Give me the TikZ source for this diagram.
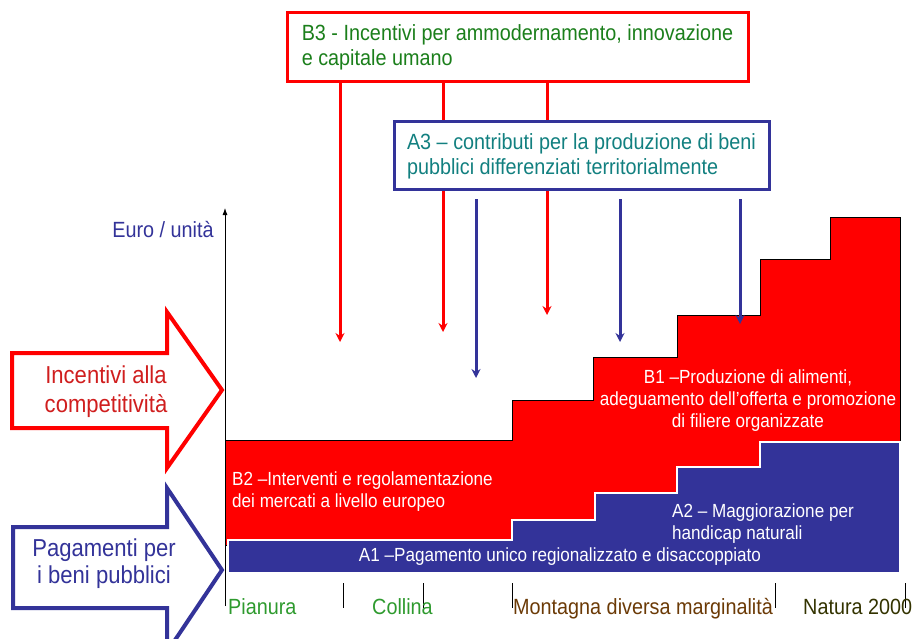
\documentclass[tikz,border=0pt]{standalone}
\usepackage{fontspec}
\setmainfont{Liberation Sans}[FakeStretch=0.9]
\usetikzlibrary{arrows.meta}

\definecolor{pacred}{HTML}{FF0000}
\definecolor{pacblue}{HTML}{333399}
\definecolor{boxgreen}{HTML}{1B7F1B}
\definecolor{boxteal}{HTML}{128080}
\definecolor{zonegreen}{HTML}{2E9A2E}
\definecolor{zonebrown}{HTML}{6B3A06}
\definecolor{zoneolive}{HTML}{333300}
\definecolor{arrowred}{HTML}{D01E1E}

\tikzset{
  measure/.style={draw=#1,line width=3pt,fill=white,inner sep=0pt,align=left,
    font=\fontsize{22}{25}\selectfont},
  downarrow/.style={draw=#1,line width=3pt,-{Stealth[length=9pt,width=9pt]}},
  inlabel/.style={text=white,inner sep=0pt,font=\fontsize{19}{22}\selectfont},
  zone/.style={inner sep=0pt,anchor=base west,font=\fontsize{22}{25}\selectfont}
}

\begin{document}
\begin{tikzpicture}[x=1pt,y=-1pt]
\useasboundingbox (0,0) rectangle (915,639);

% stairs
\draw[fill=pacred,draw=black,line width=0.7pt]
  (225,545) -- (225,440) -- (512,440) -- (512,400) -- (593,400) -- (593,357) -- (677,357)
  -- (677,315) -- (760,315) -- (760,259) -- (830,259) -- (830,217) -- (900,217)
  -- (900,545) -- cycle;
\draw[fill=pacblue,draw=white,line width=1.2pt]
  (228,540) -- (512,540) -- (512,520) -- (595,520) -- (595,493) -- (677,493)
  -- (677,467) -- (760,467) -- (760,442) -- (900,442) -- (900,573) -- (228,573) -- cycle;

% axis and ticks
\draw[line width=0.8pt,-{Latex[length=7pt,width=5pt]}] (225,606) -- (225,208);
\foreach \x in {343,423,512,775,905}
  \draw[line width=0.8pt] (\x,583) -- (\x,608);

\node[text=pacblue,inner sep=0pt,font=\fontsize{22}{25}\selectfont] (euro) at (163,230) {Euro / unità};

% zones
\node[zone,text=zonegreen] (pianura) at (228,614) {Pianura};
\node[zone,text=zonegreen] (collina) at (372,614) {Collina};
\node[zone,text=zonebrown] (montagna) at (513,614) {Montagna diversa marginalità};
\node[zone,text=zoneolive] (natura) at (803,614) {Natura 2000};

% measures
\node[measure=pacred,text=boxgreen,minimum width=461pt,minimum height=69pt] (b3) at (517.5,47.5)
  {B3 - Incentivi per ammodernamento, innovazione\\e capitale umano};

\coordinate (r1) at (340,342);
\coordinate (r2) at (443,332);
\coordinate (r3) at (547,315);
\foreach \t in {r1,r2,r3}
  \draw[downarrow=pacred] (b3.south -| \t) -- (\t);

\node[measure=pacblue,text=boxteal,minimum width=375pt,minimum height=68pt] (a3) at (581.5,156)
  {A3 – contributi per la produzione di beni\\pubblici differenziati territorialmente};

\coordinate (b1) at (476,378);
\coordinate (b2) at (620,342);
\coordinate (b3t) at (740,324);
\foreach \t in {b1,b2,b3t}
  \draw[downarrow=pacblue] ([yshift=-8pt]a3.south -| \t) -- (\t);

% labels on the stairs
\node[inlabel,align=left,anchor=west] (b2lab) at (232,492)
  {B2 –Interventi e regolamentazione\\dei mercati a livello europeo};
\node[inlabel,align=center] (b1lab) at (748,401)
  {B1 –Produzione di alimenti,\\adeguamento dell’offerta e promozione\\di filiere organizzate};
\node[inlabel,align=left,anchor=west] (a2lab) at (672,524)
  {A2 – Maggiorazione per\\handicap naturali};
\node[inlabel] (a1lab) at (560,557)
  {A1 –Pagamento unico regionalizzato e disaccoppiato};

% side arrows
\draw[draw=pacred,fill=white,line width=4pt,line join=miter]
  (12,353) -- (167,353) -- (167,312) -- (222,390) -- (167,468) -- (167,428) -- (12,428) -- cycle;
\node[text=arrowred,align=center,inner sep=0pt,font=\fontsize{24.5}{29}\selectfont] (incent) at (106,392)
  {Incentivi alla\\competitività};

\draw[draw=pacblue,fill=white,line width=4pt,line join=miter]
  (13,527) -- (167,527) -- (167,488) -- (222,570) -- (167,652) -- (167,608) -- (13,608) -- cycle;
\node[text=pacblue,align=center,inner sep=0pt,font=\fontsize{24.5}{27}\selectfont] (pagam) at (104,564)
  {Pagamenti per\\i beni pubblici};
\end{tikzpicture}
\end{document}
